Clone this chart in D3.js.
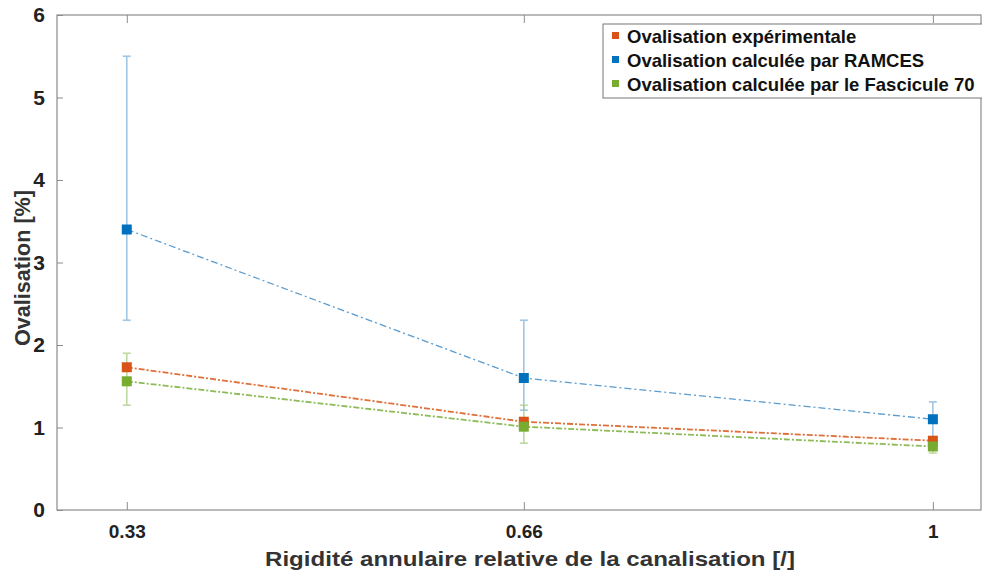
<!DOCTYPE html>
<html><head><meta charset="utf-8">
<script src="https://cdn.jsdelivr.net/npm/d3@7"></script>
<style>body{margin:0;background:#fff}svg{display:block}</style>
</head><body>
<svg id="c" width="982" height="574"></svg>
<script>
const xValues = [0.33, 0.66, 1];
const xTickLabels = ["0.33", "0.66", "1"];
const yTicks = [0, 1, 2, 3, 4, 5, 6];
const seriesNames = ["Ovalisation expérimentale", "Ovalisation calculée par RAMCES", "Ovalisation calculée par le Fascicule 70"];
const experimental = [1.73, 1.07, 0.84];
const ramces = [3.4, 1.6, 1.1];
const ramcesLow = [2.3, 1.21, 0.8];
const ramcesHigh = [5.5, 2.3, 1.31];
const fascicule = [1.56, 1.01, 0.77];
const fasciculeLow = [1.27, 0.81, 0.69];
const fasciculeHigh = [1.9, 1.27, 0.86];
const colors = ["#D95319", "#0072BD", "#77AC30"];
const lineColors = ["#E0703A", "#5A9CCF", "#8DBB57"];
const xLabel = "Rigidité annulaire relative de la canalisation [/]";
const yLabel = "Ovalisation [%]";

const svg = d3.select("#c");
const L = 57, R = 981, T = 15, B = 510;
const x = d3.scaleLinear().domain([0.272, 1.04]).range([L, R]);
const y = d3.scaleLinear().domain([0, 6]).range([B, T]);
const font = "'Liberation Sans', Arial, sans-serif";
const axisCol = "#8c8c8c";

// box
svg.append("rect").attr("x", L).attr("y", T).attr("width", R - L).attr("height", B - T)
  .attr("fill", "none").attr("stroke", axisCol).attr("stroke-width", 1.2);

// x axis
const xAxis = d3.axisBottom(x).tickValues(xValues).tickFormat((d, i) => xTickLabels[i]).tickSizeInner(-8).tickSizeOuter(0).tickPadding(15);
const gx = svg.append("g").attr("transform", `translate(0,${B})`).call(xAxis);
gx.select(".domain").remove();
gx.selectAll("line").attr("stroke", axisCol);
gx.selectAll("text").attr("font-family", font).attr("font-weight", "bold").attr("font-size", 19).attr("fill", "#222");
const xTop = d3.axisTop(x).tickValues(xValues).tickFormat("").tickSizeInner(-8).tickSizeOuter(0);
const gxt = svg.append("g").attr("transform", `translate(0,${T})`).call(xTop);
gxt.select(".domain").remove();
gxt.selectAll("line").attr("stroke", axisCol);

// y axis
const yAxis = d3.axisLeft(y).tickValues(yTicks).tickFormat(d3.format("d")).tickSizeInner(-6).tickSizeOuter(0).tickPadding(12);
const gy = svg.append("g").attr("transform", `translate(${L},0)`).call(yAxis);
gy.select(".domain").remove();
gy.selectAll("line").attr("stroke", axisCol);
gy.selectAll("text").attr("font-family", font).attr("font-weight", "bold").attr("font-size", 21).attr("fill", "#222");

// labels
svg.append("text").attr("x", 530).attr("y", 566).attr("text-anchor", "middle")
  .attr("font-family", font).attr("font-weight", "bold").attr("font-size", 21).attr("fill", "#333")
  .attr("textLength", 530).attr("lengthAdjust", "spacingAndGlyphs").text(xLabel);
svg.append("text").attr("transform", `translate(30,268) rotate(-90)`).attr("text-anchor", "middle")
  .attr("font-family", font).attr("font-weight", "bold").attr("font-size", 22).attr("fill", "#333")
  .attr("textLength", 156).attr("lengthAdjust", "spacingAndGlyphs").text(yLabel);

// error bars
function errBars(vals, lo, hi, col) {
  const g = svg.append("g").attr("stroke", col).attr("stroke-width", 1.6).attr("opacity", 0.75);
  xValues.forEach((xv, i) => {
    const cx = x(xv);
    g.append("line").attr("x1", cx).attr("x2", cx).attr("y1", y(lo[i])).attr("y2", y(hi[i]));
    g.append("line").attr("x1", cx - 4).attr("x2", cx + 4).attr("y1", y(lo[i])).attr("y2", y(lo[i]));
    g.append("line").attr("x1", cx - 4).attr("x2", cx + 4).attr("y1", y(hi[i])).attr("y2", y(hi[i]));
  });
}
errBars(ramces, ramcesLow, ramcesHigh, "#7FB3DC");
errBars(fascicule, fasciculeLow, fasciculeHigh, "#A9CC82");

// lines
const line = d3.line().x((d, i) => x(xValues[i])).y(d => y(d));
const allSeries = [experimental, ramces, fascicule];
const dashes = ["6,2,2,2", "7,3,2,3", "6,2,2,2"];
const widths = [1.8, 1.3, 1.8];
[1, 0, 2].forEach(k => {
  svg.append("path").datum(allSeries[k]).attr("d", line).attr("fill", "none")
    .attr("stroke", lineColors[k]).attr("stroke-width", widths[k]).attr("stroke-dasharray", dashes[k]);
});
// markers
[1, 0, 2].forEach(k => {
  svg.append("g").selectAll("rect").data(allSeries[k]).join("rect")
    .attr("x", (d, i) => x(xValues[i]) - 5).attr("y", d => y(d) - 5)
    .attr("width", 10).attr("height", 10).attr("fill", colors[k]);
});

// legend
const lg = svg.append("g");
lg.append("rect").attr("x", 603).attr("y", 24).attr("width", 390).attr("height", 74)
  .attr("fill", "#fff").attr("stroke", "#777").attr("stroke-width", 1);
seriesNames.forEach((name, i) => {
  const ty = 43 + i * 24;
  lg.append("rect").attr("x", 612).attr("y", ty - 11).attr("width", 7).attr("height", 7).attr("fill", colors[i]);
  lg.append("text").attr("x", 627).attr("y", ty).attr("font-family", font).attr("font-weight", "bold")
    .attr("font-size", 18.5).attr("fill", "#111").text(name);
});
</script>
</body></html>
